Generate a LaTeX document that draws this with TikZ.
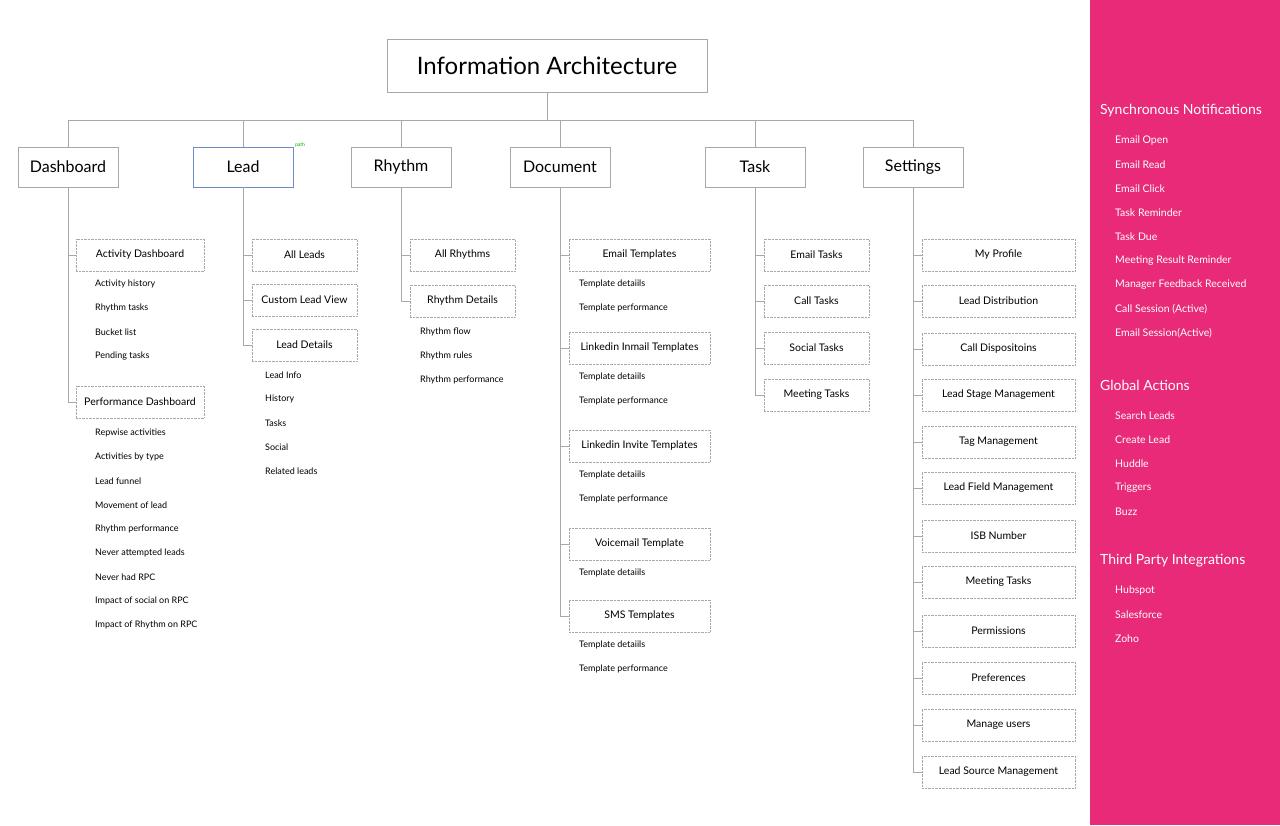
\documentclass[tikz,border=0pt]{standalone}
\usepackage{fontspec}
\setmainfont{Lato}
\usepackage{tikz}
\usetikzlibrary{positioning}
\definecolor{iaPink}{HTML}{E82A78}
\definecolor{iaLine}{HTML}{A8A8A8}
\definecolor{iaBlue}{HTML}{6A8CC8}
\tikzstyle{fTitle} = [rectangle, draw=iaLine, minimum width=320pt, minimum height=53pt, font=\fontsize{24}{28}\selectfont]
\tikzstyle{fMain} = [rectangle, draw=iaLine, minimum width=100pt, minimum height=40pt, font=\fontsize{16}{19}\selectfont]
\tikzstyle{fSub} = [rectangle, draw=iaLine, densely dotted, minimum height=32pt, font=\fontsize{10.5}{12}\selectfont]
\tikzstyle{fItem} = [anchor=west, inner sep=0pt, font=\fontsize{9}{11}\selectfont]
\tikzstyle{fHead} = [anchor=west, inner sep=0pt, text=white, font=\fontsize{14}{17}\selectfont]
\tikzstyle{fSide} = [anchor=west, inner sep=0pt, text=white, font=\fontsize{10.5}{12}\selectfont]
\tikzstyle{fLink} = [iaLine, thick]

\begin{document}
\begin{tikzpicture}[x=1pt, y=-1pt]
    \useasboundingbox (0,0) rectangle (1280,825);
    \fill[white] (0,0) rectangle (1280,825);
    \fill[iaPink] (1090,0) rectangle (1280,825);

    % top level
    \node (title) [fTitle] at (547,66) {Information Architecture};
    \node (dashboard) [fMain] at (68,167) {Dashboard};
    \node (lead) [fMain, draw=iaBlue] at (243,167) {Lead};
    \node (rhythm) [fMain] at (401,167) {Rhythm};
    \node (document) [fMain] at (560,167) {Document};
    \node (task) [fMain] at (755,167) {Task};
    \node (settings) [fMain] at (913,167) {Settings};
    \node (pathTag) [text=green!70!black, font=\fontsize{5}{6}\selectfont, inner sep=0pt] at (300,145) {path};

    \coordinate (bus) at (547,120);
    \draw [fLink] (title.south) -- (bus);
    \foreach \m in {dashboard, lead, rhythm, document, task, settings}
        \draw [fLink] (\m.north) -- (\m.north |- bus);
    \draw [fLink] (dashboard.north |- bus) -- (settings.north |- bus);

    % dashboard
    \node (activityDash) [fSub, minimum width=128pt] at (140,255) {Activity Dashboard};
    \node (perfDash) [fSub, minimum width=128pt] at (140,402) {Performance Dashboard};
    \foreach \t [count=\i] in {Activity history, Rhythm tasks, Bucket list, Pending tasks}
        \node [fItem] at (95,260+24*\i) {\t};
    \foreach \t [count=\i] in {Repwise activities, Activities by type, Lead funnel, Movement of lead, Rhythm performance, Never attempted leads, Never had RPC, Impact of social on RPC, Impact of Rhythm on RPC}
        \node [fItem] at (95,409+24*\i) {\t};
    \draw [fLink] (dashboard.south) |- (perfDash.west);
    \draw [fLink] (dashboard.south) |- (activityDash.west);

    % lead
    \node (allLeads) [fSub, minimum width=105pt] at (304.5,255) {All Leads};
    \node (customView) [fSub, minimum width=105pt] at (304.5,300) {Custom Lead View};
    \node (leadDetails) [fSub, minimum width=105pt] at (304.5,345) {Lead Details};
    \foreach \t [count=\i] in {Lead Info, History, Tasks, Social, Related leads}
        \node [fItem] at (265,351+24*\i) {\t};
    \foreach \s in {allLeads, customView, leadDetails}
        \draw [fLink] (lead.south) |- (\s.west);

    % rhythm
    \node (allRhythms) [fSub, minimum width=105pt] at (462.5,255) {All Rhythms};
    \node (rhythmDetails) [fSub, minimum width=105pt] at (462.5,301) {Rhythm Details};
    \foreach \t [count=\i] in {Rhythm flow, Rhythm rules, Rhythm performance}
        \node [fItem] at (420,308+24*\i) {\t};
    \foreach \s in {allRhythms, rhythmDetails}
        \draw [fLink] (rhythm.south) |- (\s.west);

    % document
    \foreach \s/\t/\y/\n in {emailTpl/Email Templates/255/2, inmailTpl/Linkedin Inmail Templates/348/2, inviteTpl/Linkedin Invite Templates/446/2, voiceTpl/Voicemail Template/544/1, smsTpl/SMS Templates/616/2} {
        \node (\s) [fSub, minimum width=141pt] at (639.5,\y) {\t};
        \draw [fLink] (document.south) |- (\s.west);
        \node [fItem] at (579,\y+29) {Template detaiils};
        \ifnum\n=2 \node [fItem] at (579,\y+53) {Template performance};\fi
    }

    % task
    \foreach \s/\t/\y in {emailTasks/Email Tasks/255, callTasks/Call Tasks/301, socialTasks/Social Tasks/348, meetingTasks/Meeting Tasks/395} {
        \node (\s) [fSub, minimum width=105pt] at (816.5,\y) {\t};
        \draw [fLink] (task.south) |- (\s.west);
    }

    % settings
    \foreach \t/\y [count=\i] in {My Profile/255, Lead Distribution/301, Call Dispositoins/349, Lead Stage Management/395, Tag Management/442, Lead Field Management/488, ISB Number/536, Meeting Tasks/582, Permissions/631, Preferences/678, Manage users/725, Lead Source Management/772} {
        \node (set\i) [fSub, minimum width=153pt] at (998.5,\y) {\t};
        \draw [fLink] (settings.south) |- (set\i.west);
    }

    % sidebar
    \node (syncHead) [fHead] at (1100,111) {Synchronous Notifications};
    \foreach \t [count=\i] in {Email Open, Email Read, Email Click, Task Reminder, Task Due, Meeting Result Reminder, Manager Feedback Received, Call Session (Active), Email Session(Active)}
        \node [fSide] at (1115,117+24*\i) {\t};
    \node (globalHead) [fHead] at (1100,385) {Global Actions};
    \foreach \t [count=\i] in {Search Leads, Create Lead, Huddle, Triggers, Buzz}
        \node [fSide] at (1115,392+24*\i) {\t};
    \node (thirdHead) [fHead] at (1100,561) {Third Party Integrations};
    \foreach \t [count=\i] in {Hubspot, Salesforce, Zoho}
        \node [fSide] at (1115,567+24*\i) {\t};
\end{tikzpicture}
\end{document}
